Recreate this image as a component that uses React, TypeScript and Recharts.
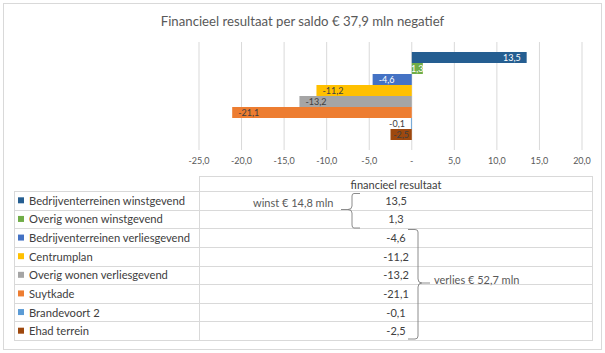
import { BarChart, Bar, XAxis, YAxis, CartesianGrid, LabelList } from 'recharts';

const TITLE = 'Financieel resultaat per saldo € 37,9 mln negatief';
const CATEGORY = 'financieel resultaat';

const seriesNames = [
  'Bedrijventerreinen winstgevend',
  'Overig wonen winstgevend',
  'Bedrijventerreinen verliesgevend',
  'Centrumplan',
  'Overig wonen verliesgevend',
  'Suytkade',
  'Brandevoort 2',
  'Ehad terrein',
];
const seriesValues = [13.5, 1.3, -4.6, -11.2, -13.2, -21.1, -0.1, -2.5];
const seriesColors = ['#255E91', '#70AD47', '#4472C4', '#FFC000', '#A5A5A5', '#ED7D31', '#5B9BD5', '#9E480E'];
const labelColors = ['#FFFFFF', '#FFFFFF', '#FFFFFF', '#404040', '#404040', '#404040', '#404040', '#404040'];

const xTicks = [-25, -20, -15, -10, -5, 0, 5, 10, 15, 20];

const winstText = 'winst € 14,8 mln';
const verliesText = 'verlies € 52,7 mln';

const data = [
  Object.fromEntries([['name', CATEGORY], ...seriesValues.map((v, i) => [`s${i}`, v])]),
];

const FONT = 'Lato, "Open Sans", sans-serif';
const fmt = (v: number) => v.toFixed(1).replace('.', ',');

// excel-ish "inside end" labels; small bars get centred or pushed outside
function makeLabel(color: string) {
  return (props: any) => {
    const { x, y, width, height, value } = props;
    const left = Math.min(x, x + width);
    const right = Math.max(x, x + width);
    const w = right - left;
    const text = fmt(Number(value));
    const fs = 9;
    const tw = text.length * fs * 0.5;
    let tx = left + w / 2;
    let anchor: 'start' | 'middle' | 'end' = 'middle';
    if (w >= tw + 10) {
      if (value >= 0) { tx = right - 6; anchor = 'end'; } else { tx = left + 6; anchor = 'start'; }
    } else if (w < tw - 5) {
      if (value < 0) { tx = left - 6; anchor = 'end'; } else { tx = right + 6; anchor = 'start'; }
    }
    return (
      <text x={tx} y={y + height / 2} textAnchor={anchor} dominantBaseline="central"
        fill={color} fontSize={fs} fontFamily={FONT}>{text}</text>
    );
  };
}

const ROW_TOP = 191;
const ROW_H = 149 / 8;

export default function App() {
  return (
    <div style={{ position: 'absolute', left: 0, top: 0, width: 605, height: 353, background: '#fff', fontFamily: FONT }}>
      <div style={{ position: 'absolute', left: 0, top: 13, width: 605, textAlign: 'center', fontSize: 13.2, color: '#595959' }}>
        {TITLE}
      </div>
      <div style={{ position: 'absolute', left: 0, top: 0 }}>
        <BarChart width={605} height={353} data={data} layout="vertical"
          margin={{ top: 42, right: 23, left: 199, bottom: 183 }}
          barCategoryGap={10} barGap={0}>
          <CartesianGrid horizontal={false} stroke="#D9D9D9" />
          <XAxis type="number" domain={[-25, 20]} ticks={xTicks} height={20}
            axisLine={false} tickLine={false} interval={0}
            tick={{ fill: '#595959', fontSize: 9, fontFamily: FONT }}
            tickFormatter={(v: number) => (v === 0 ? '-' : fmt(v))} />
          <YAxis type="category" dataKey="name" hide />
          {seriesValues.map((_, i) => (
            <Bar key={i} dataKey={`s${i}`} name={seriesNames[i]} fill={seriesColors[i]} isAnimationActive={false}>
              <LabelList dataKey={`s${i}`} content={makeLabel(labelColors[i])} />
            </Bar>
          ))}
        </BarChart>
      </div>
      <svg width={605} height={353} style={{ position: 'absolute', left: 0, top: 0, pointerEvents: 'none' }}
        fontFamily={FONT}>
        <rect x={3.5} y={3.5} width={598} height={346} fill="none" stroke="#D9D9D9" />
        {/* data table */}
        <line x1={199} x2={592} y1={176.5} y2={176.5} stroke="#D9D9D9" />
        {seriesNames.map((_, i) => (
          <line key={'h' + i} x1={14} x2={592} y1={Math.round(ROW_TOP + i * ROW_H) + 0.5} y2={Math.round(ROW_TOP + i * ROW_H) + 0.5} stroke="#D9D9D9" />
        ))}
        <line x1={14} x2={592} y1={340.5} y2={340.5} stroke="#D9D9D9" />
        <line x1={14.5} x2={14.5} y1={191} y2={341} stroke="#D9D9D9" />
        <line x1={199.5} x2={199.5} y1={176} y2={341} stroke="#D9D9D9" />
        <line x1={592.5} x2={592.5} y1={176} y2={341} stroke="#D9D9D9" />
        <text x={396} y={184} textAnchor="middle" dominantBaseline="central" fontSize={11} fill="#404040">{CATEGORY}</text>
        {seriesNames.map((n, i) => {
          const cy = ROW_TOP + (i + 0.5) * ROW_H;
          return (
            <g key={'r' + i}>
              <rect x={18} y={cy - 3} width={6} height={6} fill={seriesColors[i]} />
              <text x={29} y={cy} dominantBaseline="central" fontSize={11.2} fill="#404040">{n}</text>
              <text x={396} y={cy} textAnchor="middle" dominantBaseline="central" fontSize={11} fill="#404040">{fmt(seriesValues[i])}</text>
            </g>
          );
        })}
        {/* braces */}
        <path d="M 360 193.5 L 354 193.5 Q 352 193.5 352 196 L 352 206 Q 352 209.5 348 209.5 L 341 209.5 M 348 209.5 Q 352 209.5 352 213 L 352 225 Q 352 228 354 228 L 360 228"
          fill="none" stroke="#7F7F7F" strokeWidth={0.9} />
        <path d="M 408 229.5 L 415 229.5 Q 418 229.5 418 232 L 418 279 Q 418 283 422 283 L 430 283 M 422 283 Q 418 283 418 287 L 418 336 Q 418 339 415 339 L 408 339"
          fill="none" stroke="#7F7F7F" strokeWidth={0.9} />
        <text x={253} y={202} dominantBaseline="central" fontSize={11} fill="#595959">{winstText}</text>
        <text x={434} y={279} dominantBaseline="central" fontSize={11} fill="#595959">{verliesText}</text>
      </svg>
    </div>
  );
}
